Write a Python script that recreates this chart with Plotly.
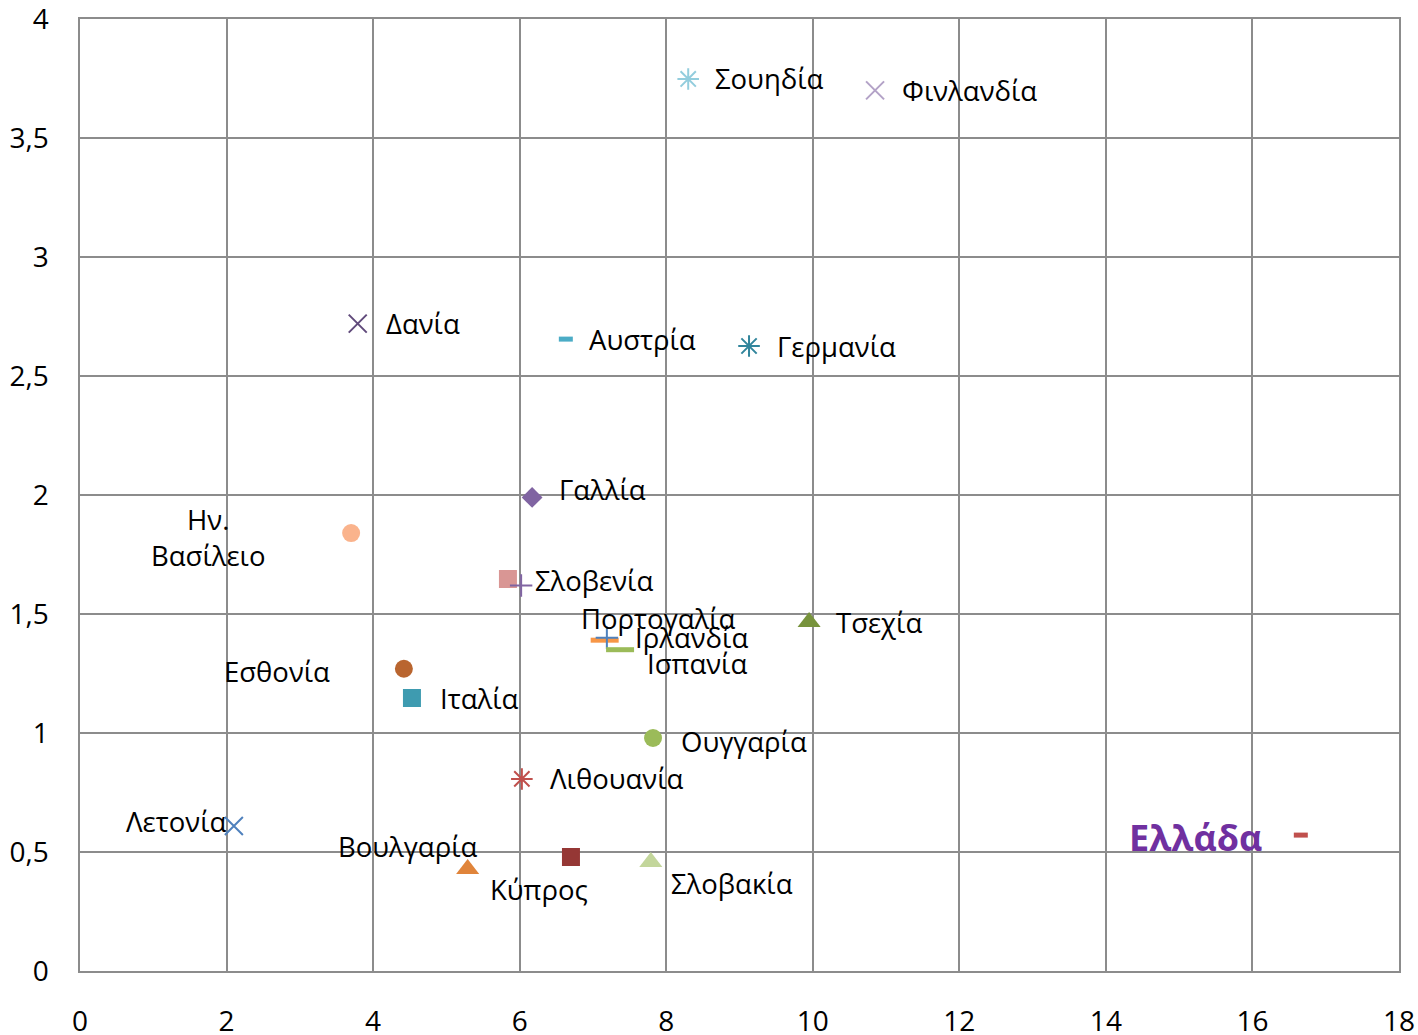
import plotly.graph_objects as go

countries = ["Σουηδία", "Φινλανδία", "Δανία", "Αυστρία", "Γερμανία", "Γαλλία",
             "Ην.<br>Βασίλειο", "", "Σλοβενία", "Πορτογαλία", "Ιρλανδία", "Ισπανία",
             "Τσεχία", "Εσθονία", "Ιταλία", "Ουγγαρία", "Λιθουανία", "Λετονία",
             "Βουλγαρία", "Κύπρος", "Σλοβακία", "Ελλάδα"]
x_vals = [8.30, 10.85, 3.79, 6.63, 9.13, 6.17, 3.70, 5.84, 6.02, 7.16, 7.19, 7.37,
          9.95, 4.42, 4.53, 7.82, 6.03, 2.10, 5.29, 6.70, 7.79, 16.66]
y_vals = [3.748, 3.70, 2.72, 2.655, 2.626, 1.99, 1.84, 1.647, 1.62, 1.39, 1.40, 1.35,
          1.466, 1.27, 1.147, 0.979, 0.807, 0.609, 0.429, 0.479, 0.458, 0.571]
symbols = ["asterisk-open", "x-thin-open", "x-thin-open", "line-ew-open", "asterisk-open",
           "diamond", "circle", "square", "cross-thin-open", "line-ew-open", "cross-thin-open",
           "line-ew-open", "triangle-up", "circle", "square", "circle", "asterisk-open",
           "x-thin-open", "triangle-up", "square", "triangle-up", "line-ew-open"]
colors = ["#93CDDD", "#B3A2C7", "#604A7B", "#4BACC6", "#31859C", "#8064A2",
          "#FAB38C", "#D99694", "#8064A2", "#F79646", "#4F81BD", "#9BBB59",
          "#77933C", "#B9652F", "#3E9BB0", "#9BBB59", "#C0504D", "#4F81BD",
          "#E0843A", "#953735", "#C3D69B", "#C0504D"]
sizes = [18, 18, 18, 10, 18, 16, 18, 18, 16, 20, 16, 20, 20, 18, 18, 18, 18, 18, 20, 18, 20, 10]
# label placement: anchor, x-shift, y-shift (pixels)
label_anchor = ["left", "left", "left", "left", "left", "left", "center", "left", "left",
                "center", "left", "center", "left", "right", "left", "left", "left", "right",
                "center", "center", "left", "center"]
label_dx = [25, 25, 26, 21, 26, 25, -143, 0, 12, 54, 26, 77, 25, -72, 26, 26, 26, -6, -60, -32, 18, -105]
label_dy = [0, 0, 0, 0, 0, 8, -4, 0, 5, 22, 0, -14, 0, -3, 0, -3, 0, 5, 22, -32, -21, -2]

fig = go.Figure()
for i, name in enumerate(countries):
    sym = symbols[i]
    is_open = sym.endswith("-open")
    lw = 2
    if sym == "line-ew-open":
        lw = 5
    marker = dict(symbol=sym, size=sizes[i], color=colors[i],
                  line=dict(color=colors[i], width=lw if is_open else 0))
    fig.add_trace(go.Scatter(x=[x_vals[i]], y=[y_vals[i]], mode="markers",
                             marker=marker, showlegend=False, name=name.replace("<br>", " ")))

for i, name in enumerate(countries):
    if not name:
        continue
    is_greece = name == "Ελλάδα"
    fig.add_annotation(
        x=x_vals[i], y=y_vals[i], text=("<b>%s</b>" % name) if is_greece else name,
        showarrow=False, xanchor=label_anchor[i], yanchor="middle",
        xshift=label_dx[i], yshift=label_dy[i], align="center",
        font=dict(family="Open Sans", size=36 if is_greece else 27.5,
                  color="#7030A0" if is_greece else "#000000"))

fig.update_layout(
    width=1418, height=1035,
    margin=dict(l=80, r=19, t=19, b=64, autoexpand=False),
    paper_bgcolor="white", plot_bgcolor="white",
    separators=", ",
    font=dict(family="Open Sans", size=28, color="#000000"),
)
fig.update_xaxes(range=[0, 18], dtick=2, tick0=0, showgrid=True, gridcolor="#8C8C8C",
                 gridwidth=1.5, zeroline=False, showline=True, linecolor="#8C8C8C",
                 linewidth=1.5, mirror=True, ticks="", ticklabelstandoff=25,
                 ticklabeloverflow="allow", automargin=False, tickfont=dict(size=28))
fig.update_yaxes(range=[0, 4], dtick=0.5, tick0=0, showgrid=True, gridcolor="#8C8C8C",
                 gridwidth=1.5, zeroline=False, showline=True, linecolor="#8C8C8C",
                 linewidth=1.5, mirror=True, ticks="", ticklabelstandoff=24,
                 ticklabeloverflow="allow", automargin=False, tickfont=dict(size=28))

fig.write_html("out.html", config={"displayModeBar": False},
               post_script="document.body.style.margin='0';document.body.style.overflow='hidden';")
